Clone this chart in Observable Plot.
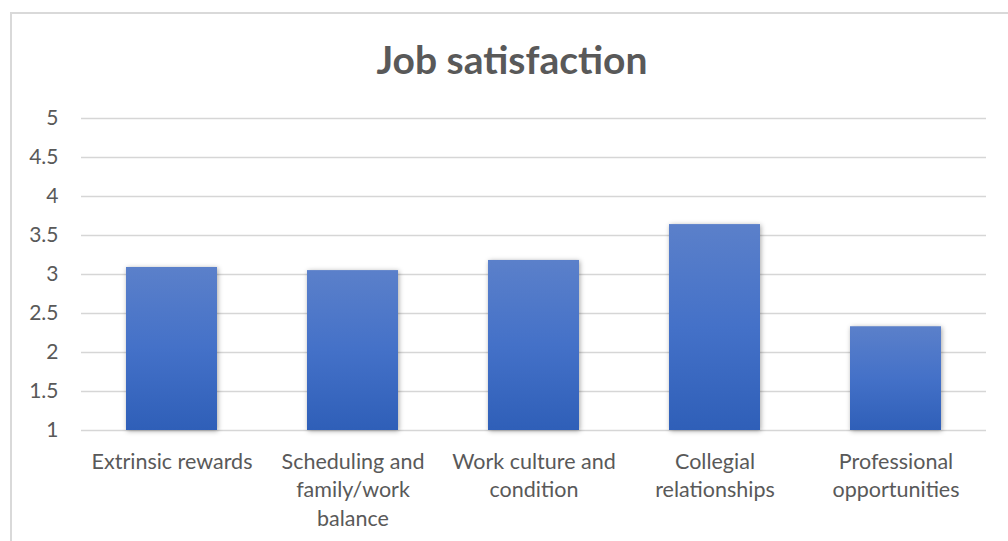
<!DOCTYPE html>
<html>
<head>
<meta charset="utf-8">
<script src="https://cdn.jsdelivr.net/npm/d3@7"></script>
<script src="https://cdn.jsdelivr.net/npm/@observablehq/plot@0.6"></script>
<style>
  html, body { margin: 0; padding: 0; background: #fff; }
  #wrap { position: relative; width: 1008px; height: 541px; overflow: hidden; font-family: Lato, "Noto Sans", sans-serif; }
  #frame { position: absolute; left: 10px; top: 12px; width: 1100px; height: 700px; border: 2px solid #d9d9d9; box-sizing: border-box; }
  #title { position: absolute; left: 0; width: 1024px; top: 40px; text-align: center; font-size: 39px; font-weight: bold; color: #595959; line-height: 1; }
  #chart { position: absolute; left: 0; top: 0; }
</style>
</head>
<body>
<div id="wrap">
  <div id="frame"></div>
  <div id="chart"></div>
  <div id="title">Job satisfaction</div>
</div>
<script>
const categories = ["Extrinsic rewards", "Scheduling and family/work balance", "Work culture and condition", "Collegial relationships", "Professional opportunities"];
const tickLabels = ["Extrinsic rewards", "Scheduling and\nfamily/work\nbalance", "Work culture and\ncondition", "Collegial\nrelationships", "Professional\nopportunities"];
const values = [3.09, 3.05, 3.18, 3.64, 2.33];
const yTicks = [1, 1.5, 2, 2.5, 3, 3.5, 4, 4.5, 5];

const data = categories.map((c, i) => ({category: c, value: values[i]}));
const labelOf = new Map(categories.map((c, i) => [c, tickLabels[i]]));

const plot = Plot.plot({
  width: 1008,
  height: 541,
  marginLeft: 81,
  marginRight: 22,
  marginTop: 118,
  marginBottom: 111,
  style: {fontFamily: "Lato, 'Noto Sans', sans-serif", fontSize: "21px", color: "#595959", background: "transparent"},
  x: {domain: categories, paddingInner: 0.5, paddingOuter: 0.25, axis: null, label: null},
  y: {domain: [1, 5], axis: null, label: null},
  marks: [
    Plot.gridY(yTicks, {stroke: "#d6d6d6", strokeOpacity: 1, strokeWidth: 1.6}),
    Plot.barY(data, {x: "category", y1: 1, y2: "value", fill: "url(#barGrad)"}),
    Plot.axisY(yTicks, {tickSize: 0, tickPadding: 23, label: null, tickFormat: d => String(d), fill: "#595959", fontSize: 21}),
    Plot.axisX({tickSize: 0, tickPadding: 18, label: null, tickFormat: d => labelOf.get(d), fill: "#595959", fontSize: 21.5, lineHeight: 1.33})
  ]
});

const svg = d3.select(plot);
const defs = svg.insert("defs", ":first-child");
const g = defs.append("linearGradient").attr("id", "barGrad").attr("x1", 0).attr("y1", 0).attr("x2", 0).attr("y2", 1);
g.append("stop").attr("offset", "0%").attr("stop-color", "#5b80ca");
g.append("stop").attr("offset", "50%").attr("stop-color", "#4471c8");
g.append("stop").attr("offset", "100%").attr("stop-color", "#2f5fb8");
svg.selectAll("g[aria-label='bar'] rect").style("filter", "drop-shadow(1px 1px 2.5px rgba(0,0,0,0.35))");

document.getElementById("chart").appendChild(plot);
</script>
</body>
</html>
